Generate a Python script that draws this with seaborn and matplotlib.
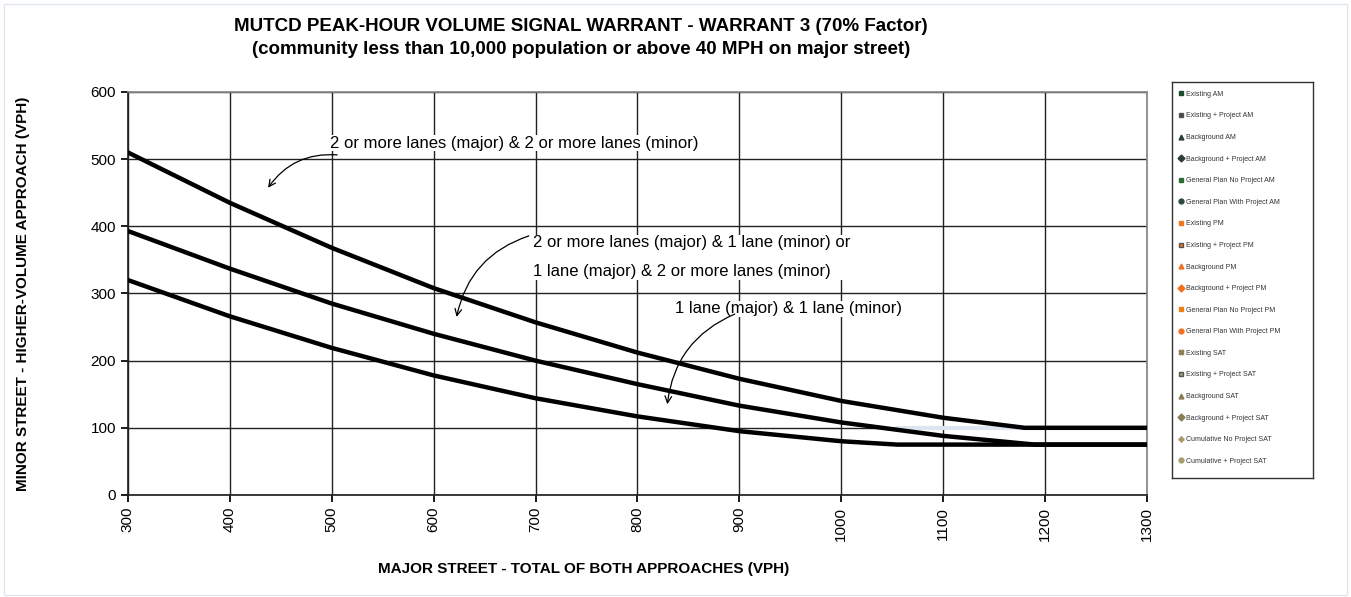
import matplotlib.pyplot as plt
import matplotlib.lines as mlines
import pandas as pd
import seaborn as sns

# warrant curves (major street total vph -> minor street vph)
major_vph = [300, 400, 500, 600, 700, 800, 900, 1000, 1100, 1180, 1300]
two_two = [510, 435, 368, 308, 257, 212, 173, 140, 115, 100, 100]

major_vph_mid = [300, 400, 500, 600, 700, 800, 900, 1000, 1100, 1190, 1300]
two_one = [393, 337, 285, 240, 200, 165, 133, 108, 88, 75, 75]

major_vph_low = [300, 400, 500, 600, 700, 800, 900, 1000, 1055, 1300]
one_one = [320, 266, 219, 178, 144, 117, 95, 80, 75, 75]

faint_x = [1055, 1182]
faint_y = [100, 100]

curve_labels = [
    "2 or more lanes (major) & 2 or more lanes (minor)",
    "2 or more lanes (major) & 1 lane (minor) or\n1 lane (major) & 2 or more lanes (minor)",
    "1 lane (major) & 1 lane (minor)",
]

legend_names = [
    "Existing AM", "Existing + Project AM", "Background AM", "Background + Project AM",
    "General Plan No Project AM", "General Plan With Project AM",
    "Existing PM", "Existing + Project PM", "Background PM", "Background + Project PM",
    "General Plan No Project PM", "General Plan With Project PM",
    "Existing SAT", "Existing + Project SAT", "Background SAT", "Background + Project SAT",
    "Cumulative No Project SAT", "Cumulative + Project SAT",
]
legend_markers = ["s", "s", "^", "D", "s", "o",
                  "s", "s", "^", "D", "s", "o",
                  "X", "s", "^", "D", "P", "o"]
legend_colors = ["#1e4a2c", "#3a4a40", "#2c3e3a", "#2c3e3a", "#2e6b34", "#2c4a3a",
                 "#f0781e", "#f07020", "#f07020", "#f07020", "#f08010", "#f07020",
                 "#8a7d55", "#a89e80", "#8a7d55", "#8a7d55", "#a89a6a", "#a89e70"]

df = pd.concat([
    pd.DataFrame({"major": major_vph, "minor": two_two, "curve": "a"}),
    pd.DataFrame({"major": major_vph_mid, "minor": two_one, "curve": "b"}),
    pd.DataFrame({"major": major_vph_low, "minor": one_one, "curve": "c"}),
])

sns.set_theme(style="white")
plt.rcParams["font.family"] = ["Liberation Sans", "DejaVu Sans"]
plt.rcParams["text.color"] = "black"
plt.rcParams["axes.labelcolor"] = "black"
plt.rcParams["xtick.color"] = "black"
plt.rcParams["ytick.color"] = "black"

fig = plt.figure(figsize=(13.51, 5.97), dpi=100)
fig.patches.append(plt.Rectangle((0.003, 0.003), 0.994, 0.99, transform=fig.transFigure,
                                 fill=False, edgecolor="#dfe6ee", linewidth=1))
ax = fig.add_axes([0.0947, 0.1709, 0.7543, 0.675])

ax.plot(faint_x, faint_y, color="#dde6f0", linewidth=3, zorder=2)
sns.lineplot(data=df, x="major", y="minor", hue="curve", palette=["black"] * 3,
             linewidth=3.2, legend=False, ax=ax, zorder=3, sort=False)

ax.set_xlim(300, 1300)
ax.set_ylim(0, 600)
ax.set_xticks(range(300, 1301, 100))
ax.set_yticks(range(0, 601, 100))
ax.grid(True, color="#222222", linewidth=1)
ax.tick_params(axis="x", labelrotation=90, labelsize=11, length=5, direction="out", bottom=True)
ax.tick_params(axis="y", labelsize=11, length=5, direction="out", left=True)
for s in ["left", "bottom"]:
    ax.spines[s].set_color("#222222")
for s in ["top", "right"]:
    ax.spines[s].set_color("#888888")

ax.set_xlabel("MAJOR STREET - TOTAL OF BOTH APPROACHES (VPH)", fontsize=11, fontweight="bold")
ax.set_ylabel("MINOR STREET - HIGHER-VOLUME APPROACH (VPH)", fontsize=11, fontweight="bold")
ax.xaxis.set_label_coords(0.447, -0.167)
ax.yaxis.set_label_coords(-0.096, 0.5)
fig.suptitle("MUTCD PEAK-HOUR VOLUME SIGNAL WARRANT - WARRANT 3 (70% Factor)\n"
             "(community less than 10,000 population or above 40 MPH on major street)",
             x=0.43, y=0.97, fontsize=13.5, fontweight="bold", linespacing=1.5)

ax.text(498, 524, curve_labels[0], fontsize=12, va="center", ha="left", zorder=4,
        bbox=dict(facecolor="white", edgecolor="none", pad=0.5))
ax.text(697, 354, curve_labels[1], fontsize=12, va="center", ha="left", zorder=4,
        linespacing=2.15, bbox=dict(facecolor="white", edgecolor="none", pad=0.5))
ax.text(837, 277, curve_labels[2], fontsize=12, va="center", ha="left", zorder=4,
        bbox=dict(facecolor="white", edgecolor="none", pad=0.5))

arrow = dict(arrowstyle="->", color="black", linewidth=0.9, connectionstyle="arc3,rad=0.3")
ax.annotate("", xy=(436, 454), xytext=(508, 506), arrowprops=arrow, zorder=5)
ax.annotate("", xy=(622, 261), xytext=(696, 387), arrowprops=arrow, zorder=5)
ax.annotate("", xy=(829, 131), xytext=(898, 271), arrowprops=arrow, zorder=5)

handles = [mlines.Line2D([], [], linestyle="none", marker=m, color=c, markersize=3.5,
                         markeredgecolor="#555555" if m == "s" and i in (1, 7, 13) else c,
                         label=n)
           for i, (n, m, c) in enumerate(zip(legend_names, legend_markers, legend_colors))]
lax = fig.add_axes([0.8675, 0.1993, 0.1045, 0.6633])
lax.set_xticks([])
lax.set_yticks([])
for s in lax.spines.values():
    s.set_color("#333333")
    s.set_linewidth(1)
leg = lax.legend(handles=handles, loc="upper left", bbox_to_anchor=(0.0, 0.99), frameon=False,
                 fontsize=5, labelspacing=2.1, handletextpad=0.0, handlelength=1.3,
                 borderpad=0.2)
for t in leg.get_texts():
    t.set_color("#333333")

fig.savefig("out.png", dpi=100)
